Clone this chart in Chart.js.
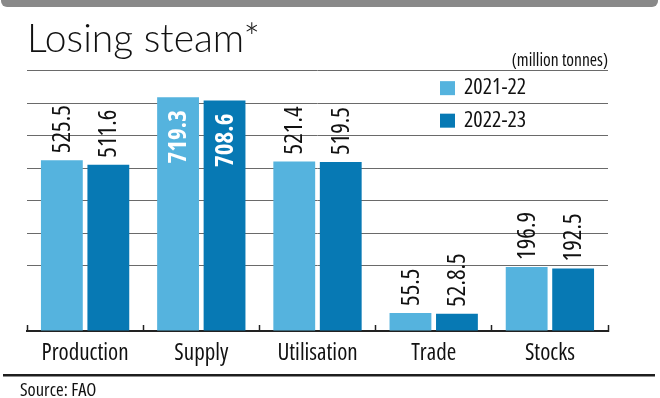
<!DOCTYPE html>
<html>
<head>
<meta charset="utf-8">
<title>Losing steam</title>
<script src="https://cdn.jsdelivr.net/npm/chart.js@4.4.1/dist/chart.umd.min.js"></script>
<style>
  html, body { margin: 0; padding: 0; background: #fff; }
  #wrap { position: relative; width: 660px; height: 398px; }
</style>
</head>
<body>
<div id="wrap"><canvas id="chart"></canvas></div>
<script>
// data (million tonnes)
const categories = ['Production', 'Supply', 'Utilisation', 'Trade', 'Stocks'];
const seriesNames = ['2021-22', '2022-23'];
const values2122 = [525.5, 719.3, 521.4, 55.5, 196.9];
const values2223 = [511.6, 708.6, 519.5, 52.8, 192.5];
// printed labels (the original prints "52.8.5" for trade)
const labels2122 = ['525.5', '719.3', '521.4', '55.5', '196.9'];
const labels2223 = ['511.6', '708.6', '519.5', '52.8.5', '192.5'];
const yMax = 800;
const yStep = 100;

// condensed cut of Open Sans
const FAMILY = "'Open Sans', sans-serif";
const cond = (size, weight) => (weight ? weight + ' ' : '') + 'condensed ' + size + 'px ' + FAMILY;
const LIGHT_BLUE = '#55b3de';
const DARK_BLUE = '#0779b4';

// grey band on top, rule and source line at the bottom
const framePlugin = {
  id: 'frame',
  beforeDraw(chart) {
    const ctx = chart.ctx;
    ctx.save();
    ctx.fillStyle = '#fff';
    ctx.fillRect(0, 0, chart.width, chart.height);
    ctx.fillStyle = '#898989';
    ctx.beginPath();
    ctx.roundRect(1, -6, 657, 13, 6);
    ctx.fill();
    ctx.fillStyle = '#1e1e1e';
    ctx.fillRect(3, 374, 652, 2.5);
    ctx.font = cond(18.5);
    ctx.fillStyle = '#111';
    ctx.textBaseline = 'alphabetic';
    ctx.fillText('Source: FAO', 20, 396);
    ctx.restore();
  }
};

// legend sits inside the plot, between the top gridlines
const insideLegend = {
  id: 'insideLegend',
  afterDraw(chart) {
    const ctx = chart.ctx;
    const area = chart.chartArea;
    const y = chart.scales.y;
    ctx.save();
    ctx.font = cond(22);
    ctx.textBaseline = 'middle';
    chart.data.datasets.forEach((ds, i) => {
      const cy = (y.getPixelForValue(yMax - i * yStep) + y.getPixelForValue(yMax - (i + 1) * yStep)) / 2 + 1;
      const x0 = area.right - 168;
      ctx.fillStyle = ds.backgroundColor;
      ctx.fillRect(x0, cy - 7, 15, 14);
      ctx.fillStyle = '#111';
      ctx.fillText(ds.label, x0 + 24, cy);
    });
    ctx.restore();
  }
};

// rotated value labels: above the bar, or inside it when there is no room
const barLabels = {
  id: 'barLabels',
  afterDatasetsDraw(chart) {
    const ctx = chart.ctx;
    const top = chart.chartArea.top;
    ctx.save();
    chart.data.datasets.forEach((ds, i) => {
      const meta = chart.getDatasetMeta(i);
      meta.data.forEach((bar, j) => {
        const txt = ds.printed[j];
        ctx.save();
        ctx.font = cond(25);
        const w = ctx.measureText(txt).width;
        ctx.translate(bar.x, bar.y);
        ctx.rotate(-Math.PI / 2);
        ctx.textBaseline = 'middle';
        if (bar.y - 7 - w < top) {
          ctx.font = cond(25, 'bold');
          ctx.fillStyle = '#fff';
          ctx.textAlign = 'right';
          ctx.fillText(txt, -13, 1);
        } else {
          ctx.fillStyle = '#111';
          ctx.textAlign = 'left';
          ctx.fillText(txt, 7, 1);
        }
        ctx.restore();
      });
    });
    ctx.restore();
  }
};

new Chart(document.getElementById('chart'), {
  type: 'bar',
  data: {
    labels: categories,
    datasets: [
      { label: seriesNames[0], data: values2122, printed: labels2122, backgroundColor: LIGHT_BLUE },
      { label: seriesNames[1], data: values2223, printed: labels2223, backgroundColor: DARK_BLUE }
    ]
  },
  options: {
    responsive: true,
    maintainAspectRatio: false,
    animation: false,
    layout: { padding: { left: 27, right: 52, top: 0, bottom: 16.4 } },
    datasets: { bar: { categoryPercentage: 0.8, barPercentage: 0.9 } },
    plugins: {
      legend: { display: false },
      tooltip: { enabled: false },
      title: {
        display: true,
        text: 'Losing steam*',
        align: 'start',
        color: '#111',
        font: { family: "Lato, sans-serif", size: 39, weight: 300, lineHeight: 0.6 },
        padding: { top: 27.5, bottom: 0 }
      },
      subtitle: {
        display: true,
        text: '(million tonnes)',
        align: 'end',
        color: '#111',
        font: { family: FAMILY, size: 17.5, weight: 'condensed', lineHeight: 1 },
        padding: { top: 1, bottom: 1.5 }
      }
    },
    scales: {
      x: {
        grid: { drawOnChartArea: false, tickLength: -6, tickColor: '#222', tickWidth: 1.5 },
        border: { color: '#222', width: 2 },
        ticks: {
          font: { family: FAMILY, size: 23, weight: 'condensed' },
          color: '#111', padding: 14.5, maxRotation: 0, autoSkip: false
        }
      },
      y: {
        min: 0,
        max: yMax,
        ticks: { display: false, stepSize: yStep },
        border: { display: false },
        grid: {
          drawTicks: false,
          lineWidth: 1,
          color: (c) => (c.tick && c.tick.value > yStep) ? '#6a6a6a' : 'rgba(0,0,0,0)'
        }
      }
    }
  },
  plugins: [framePlugin, insideLegend, barLabels]
});
</script>
</body>
</html>
